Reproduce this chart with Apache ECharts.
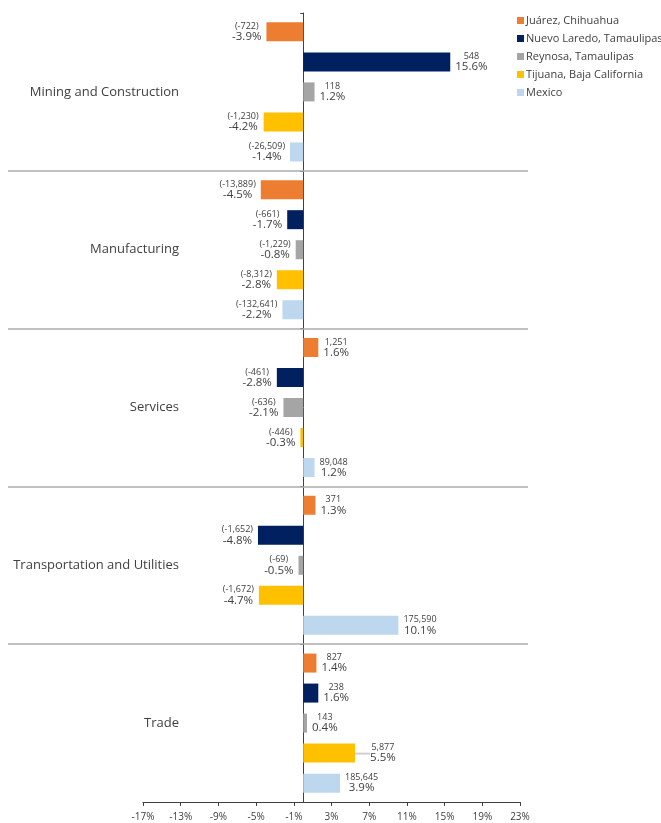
<!DOCTYPE html>
<html>
<head>
<meta charset="utf-8">
<script src="https://cdn.jsdelivr.net/npm/echarts@6/dist/echarts.min.js"></script>
<style>
  html, body { margin: 0; padding: 0; background: #fff; }
  #main { width: 661px; height: 823px; }
</style>
</head>
<body>
<div id="main"></div>
<script>
const categories = ['Mining and Construction', 'Manufacturing', 'Services', 'Transportation and Utilities', 'Trade']
const seriesNames = ['Juárez, Chihuahua', 'Nuevo Laredo, Tamaulipas', 'Reynosa, Tamaulipas', 'Tijuana, Baja California', 'Mexico']
const colors = ['#ED7D31', '#002060', '#A5A5A5', '#FFC000', '#BDD7EE']

// percent change
const juarezPct = [-3.9, -4.5, 1.6, 1.3, 1.4]
const nuevoPct = [15.6, -1.7, -2.8, -4.8, 1.6]
const reynosaPct = [1.2, -0.8, -2.1, -0.5, 0.4]
const tijuanaPct = [-4.2, -2.8, -0.3, -4.7, 5.5]
const mexicoPct = [-1.4, -2.2, 1.2, 10.1, 3.9]

// change in jobs
const juarezCount = [-722, -13889, 1251, 371, 827]
const nuevoCount = [548, -661, -461, -1652, 238]
const reynosaCount = [118, -1229, -636, -69, 143]
const tijuanaCount = [-1230, -8312, -446, -1672, 5877]
const mexicoCount = [-26509, -132641, 89048, 175590, 185645]

const xMin = -17
const xMax = 23
const xStep = 4
const separators = [1, 2, 3, 4]

const pctData = [juarezPct, nuevoPct, reynosaPct, tijuanaPct, mexicoPct]
const countData = [juarezCount, nuevoCount, reynosaCount, tijuanaCount, mexicoCount]

const fmtCount = (n) => {
  const s = Math.abs(n).toLocaleString('en-US')
  return n < 0 ? '(-' + s + ')' : s
}

// the Tijuana / Trade label sits off the bar with a short leader line
const isMoved = (si, i) => si === 3 && i === 4

const barSeries = seriesNames.map((name, si) => ({
  name,
  type: 'bar',
  barWidth: 19,
  barGap: '58%',
  itemStyle: { color: colors[si] },
  data: pctData[si].map((v, i) => ({
    value: v,
    label: { position: v < 0 ? 'left' : 'right' },
    labelLine: { show: isMoved(si, i) }
  })),
  label: {
    show: true,
    distance: 5,
    formatter: (p) => '{c|' + fmtCount(countData[si][p.dataIndex]) + '}\n{p|' + p.value.toFixed(1) + '%}',
    rich: {
      c: { fontFamily: 'Open Sans', fontSize: 9, lineHeight: 10, color: '#404040', align: 'center' },
      p: { fontFamily: 'Open Sans', fontSize: 11.5, lineHeight: 11, color: '#404040', align: 'center' }
    }
  },
  labelLayout: (p) => (isMoved(si, p.dataIndex) ? { dx: 10 } : undefined),
  labelLine: { show: false, lineStyle: { color: '#D0D0D0', width: 2 } }
}))

const myChart = echarts.init(document.getElementById('main'))
const option = {
  animation: false,
  textStyle: { fontFamily: 'Open Sans' },
  legend: {
    data: seriesNames,
    orient: 'vertical',
    left: 512,
    top: 9,
    icon: 'rect',
    itemWidth: 7,
    itemHeight: 7,
    itemGap: 5,
    textStyle: { fontFamily: 'Open Sans', fontSize: 11, color: '#404040', lineHeight: 13, padding: [0, 0, 0, -3] }
  },
  grid: [
    { left: 143, right: 141, top: 13, bottom: 21, outerBoundsMode: 'none', containLabel: false },
    { left: 8, right: 133, top: 13, bottom: 21, outerBoundsMode: 'none', containLabel: false }
  ],
  xAxis: [
    {
      type: 'value',
      gridIndex: 0,
      min: xMin,
      max: xMax,
      interval: xStep,
      splitLine: { show: false },
      axisLine: { show: true, onZero: false, lineStyle: { color: '#404040' } },
      axisTick: { show: true, length: 4, lineStyle: { color: '#404040' } },
      axisLabel: { formatter: '{value}%', fontFamily: 'Open Sans', fontSize: 10, color: '#404040', margin: 10 }
    },
    { type: 'value', gridIndex: 1, min: 0, max: 1, show: false }
  ],
  yAxis: [
    {
      type: 'category',
      gridIndex: 0,
      inverse: true,
      data: categories,
      axisLine: { show: true, onZero: true, lineStyle: { color: '#404040' } },
      axisTick: { show: true, length: 3, lineStyle: { color: '#404040' } },
      axisLabel: { fontFamily: 'Open Sans', fontSize: 13, color: '#404040', margin: -36 }
    },
    { type: 'value', gridIndex: 1, min: 0, max: 5, inverse: true, show: false }
  ],
  series: [
    ...barSeries,
    {
      type: 'scatter',
      xAxisIndex: 1,
      yAxisIndex: 1,
      data: [],
      silent: true,
      z: 0,
      markLine: {
        silent: true,
        symbol: 'none',
        label: { show: false },
        lineStyle: { color: '#ABABAB', width: 1.5, type: 'solid' },
        data: separators.map(v => ({ yAxis: v }))
      }
    }
  ]
}
myChart.setOption(option)
</script>
</body>
</html>
